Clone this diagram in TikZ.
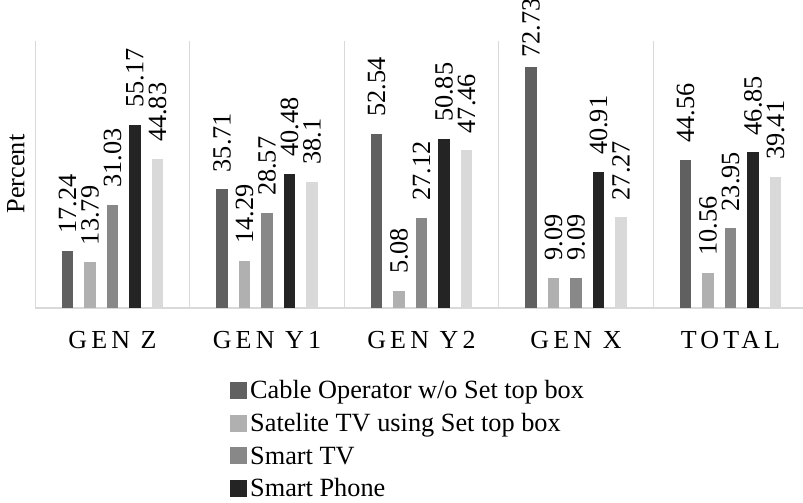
\documentclass[tikz,border=0pt]{standalone}
\usepackage{fontspec}
\setmainfont{Liberation Serif}
\newfontfamily\catfont[LetterSpace=16]{Liberation Serif}
\definecolor{bar0}{HTML}{606060}
\definecolor{bar1}{HTML}{B0B0B0}
\definecolor{bar2}{HTML}{888888}
\definecolor{bar3}{HTML}{242424}
\definecolor{bar4}{HTML}{D9D9D9}
\definecolor{gridc}{HTML}{D9D9D9}
\begin{document}
\begin{tikzpicture}[x=1pt,y=1pt,
  txt/.style={inner sep=0pt,font=\fontsize{26.3}{31}\selectfont},
  vlabel/.style={txt,rotate=90,anchor=west},
  catlabel/.style={inner sep=0pt,anchor=base,font=\fontsize{26}{31}\selectfont\catfont},
  sep/.style={gridc,line width=1pt},
  axisline/.style={gridc,line width=1.6pt}]
\useasboundingbox (0,0) rectangle (803,503);
% separators
\foreach \k in {0,...,4}{
  \draw[sep] (35+154.5*\k,195) -- (35+154.5*\k,462);
}
\draw[axisline] (35,195) -- (803,195);
% bars and labels
\foreach \cat/\name [count=\i from 0] in {{17.24,13.79,31.03,55.17,44.83}/GEN Z,
  {35.71,14.29,28.57,40.48,38.1}/GEN Y1,
  {52.54,5.08,27.12,50.85,47.46}/GEN Y2,
  {72.73,9.09,9.09,40.91,27.27}/GEN X,
  {44.56,10.56,23.95,46.85,39.41}/TOTAL}{
  \pgfmathsetmacro\xs{35+154.5*\i}
  \foreach \v [count=\j from 0] in \cat {
    \pgfmathsetmacro\xc{\xs+32.5+22.5*\j}
    \pgfmathsetmacro\yt{195+3.32*\v}
    \pgfmathsetmacro\ly{min(\yt+17,445)}
    \fill[bar\j] (\xc-5.85,195) rectangle (\xc+5.85,\yt);
    \node[vlabel] (lbl-\i-\j) at (\xc,\ly) {\v};
  }
  \node[catlabel] (cat-\i) at (\xs+77.5,154) {\name};
}
% axis title
\node[txt,rotate=90] (ytitle) at (16,329) {Percent};
% legend
\foreach \yb/\lab [count=\j from 0] in {104/{Cable Operator w/o Set top box},
  71.3/{Satelite TV using Set top box},
  38.6/{Smart TV},
  6/{Smart Phone}}{
  \fill[bar\j] (230,\yb) rectangle (247,\yb+17);
  \node[txt,anchor=base west] (leg-\j) at (250,\yb) {\lab};
}
\end{tikzpicture}
\end{document}
